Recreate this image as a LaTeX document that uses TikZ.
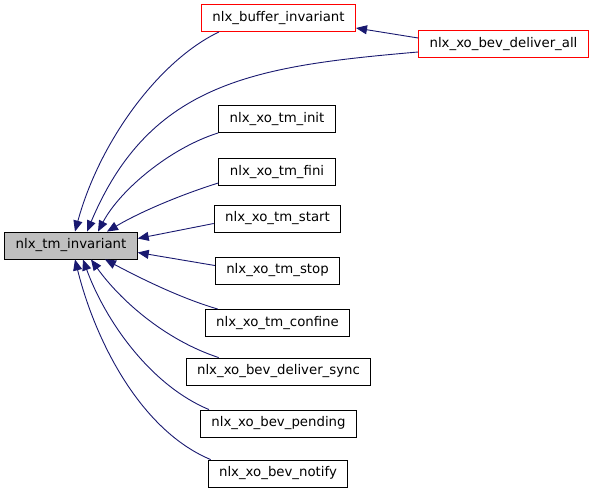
\documentclass[tikz,border=0pt]{standalone}
\usepackage{fontspec}
\setmainfont{DejaVu Sans}
\usetikzlibrary{arrows.meta, positioning}

\definecolor{edgeblue}{HTML}{191970}
\definecolor{nodegray}{HTML}{BFBFBF}

\begin{document}
\begin{tikzpicture}[x=1pt, y=-1pt,
            fn/.style={rectangle, draw=black, line width=0.9pt, fill=white,
                       inner xsep=11pt, inner ysep=0pt, minimum height=27pt,
                       font=\fontsize{13.3}{16}\selectfont},
            cur/.style={fn, fill=nodegray},
            red/.style={fn, draw=red},
            call/.style={{Triangle[length=11pt,width=9pt]}-, line width=0.9pt, edgeblue}]
          \useasboundingbox (0,0) rectangle (595,493);
          \node[cur] (tm) at (71,245.5) {nlx\_tm\_invariant};
          \node[red] (buf) at (278.5,18) {nlx\_buffer\_invariant};
          \node[red] (dall) at (503.5,44) {nlx\_xo\_bev\_deliver\_all};
          \node[fn] (init) at (277,119) {nlx\_xo\_tm\_init};
          \node[fn] (fini) at (277,172) {nlx\_xo\_tm\_fini};
          \node[fn] (start) at (277.5,218.5) {nlx\_xo\_tm\_start};
          \node[fn] (stop) at (277.5,270.5) {nlx\_xo\_tm\_stop};
          \node[fn] (conf) at (277.5,323) {nlx\_xo\_tm\_confine};
          \node[fn] (sync) at (278.5,371.5) {nlx\_xo\_bev\_deliver\_sync};
          \node[fn] (pend) at (278.5,423.5) {nlx\_xo\_bev\_pending};
          \node[fn] (noti) at (278,473.5) {nlx\_xo\_bev\_notify};
          % callers above
          \draw[call] ([xshift=4pt]tm.north) .. controls (100,140) and (160,60) .. ([xshift=18pt]buf.south west);
          \draw[call] ([xshift=16pt]tm.north) .. controls (150,82) and (255,66) .. ([yshift=-8pt]dall.west);
          \draw[call] ([yshift=-10pt]buf.east) -- ([yshift=6pt]dall.west);
          \draw[call] ([xshift=27pt]tm.north) .. controls (120,190) and (170,148) .. (init.south west);
          \draw[call] ([xshift=36pt]tm.north) .. controls (140,212) and (180,195) .. ([yshift=3pt]fini.south west);
          \draw[call] ([yshift=7pt]tm.east) -- ([yshift=-5pt]start.west);
          \draw[call] ([yshift=-7pt]tm.east) -- ([yshift=5pt]stop.west);
          % callers below
          \draw[call] ([xshift=34pt]tm.south) .. controls (140,278) and (180,298) .. ([xshift=13pt]conf.north west);
          \draw[call] ([xshift=20pt]tm.south) .. controls (120,300) and (165,340) .. ([xshift=33pt]sync.north west);
          \draw[call] ([xshift=12pt]tm.south) .. controls (105,320) and (150,385) .. ([xshift=9pt]pend.north west);
          \draw[call] ([xshift=4pt]tm.south) .. controls (95,340) and (140,430) .. ([xshift=3pt]noti.north west);
        \end{tikzpicture}
\end{document}
